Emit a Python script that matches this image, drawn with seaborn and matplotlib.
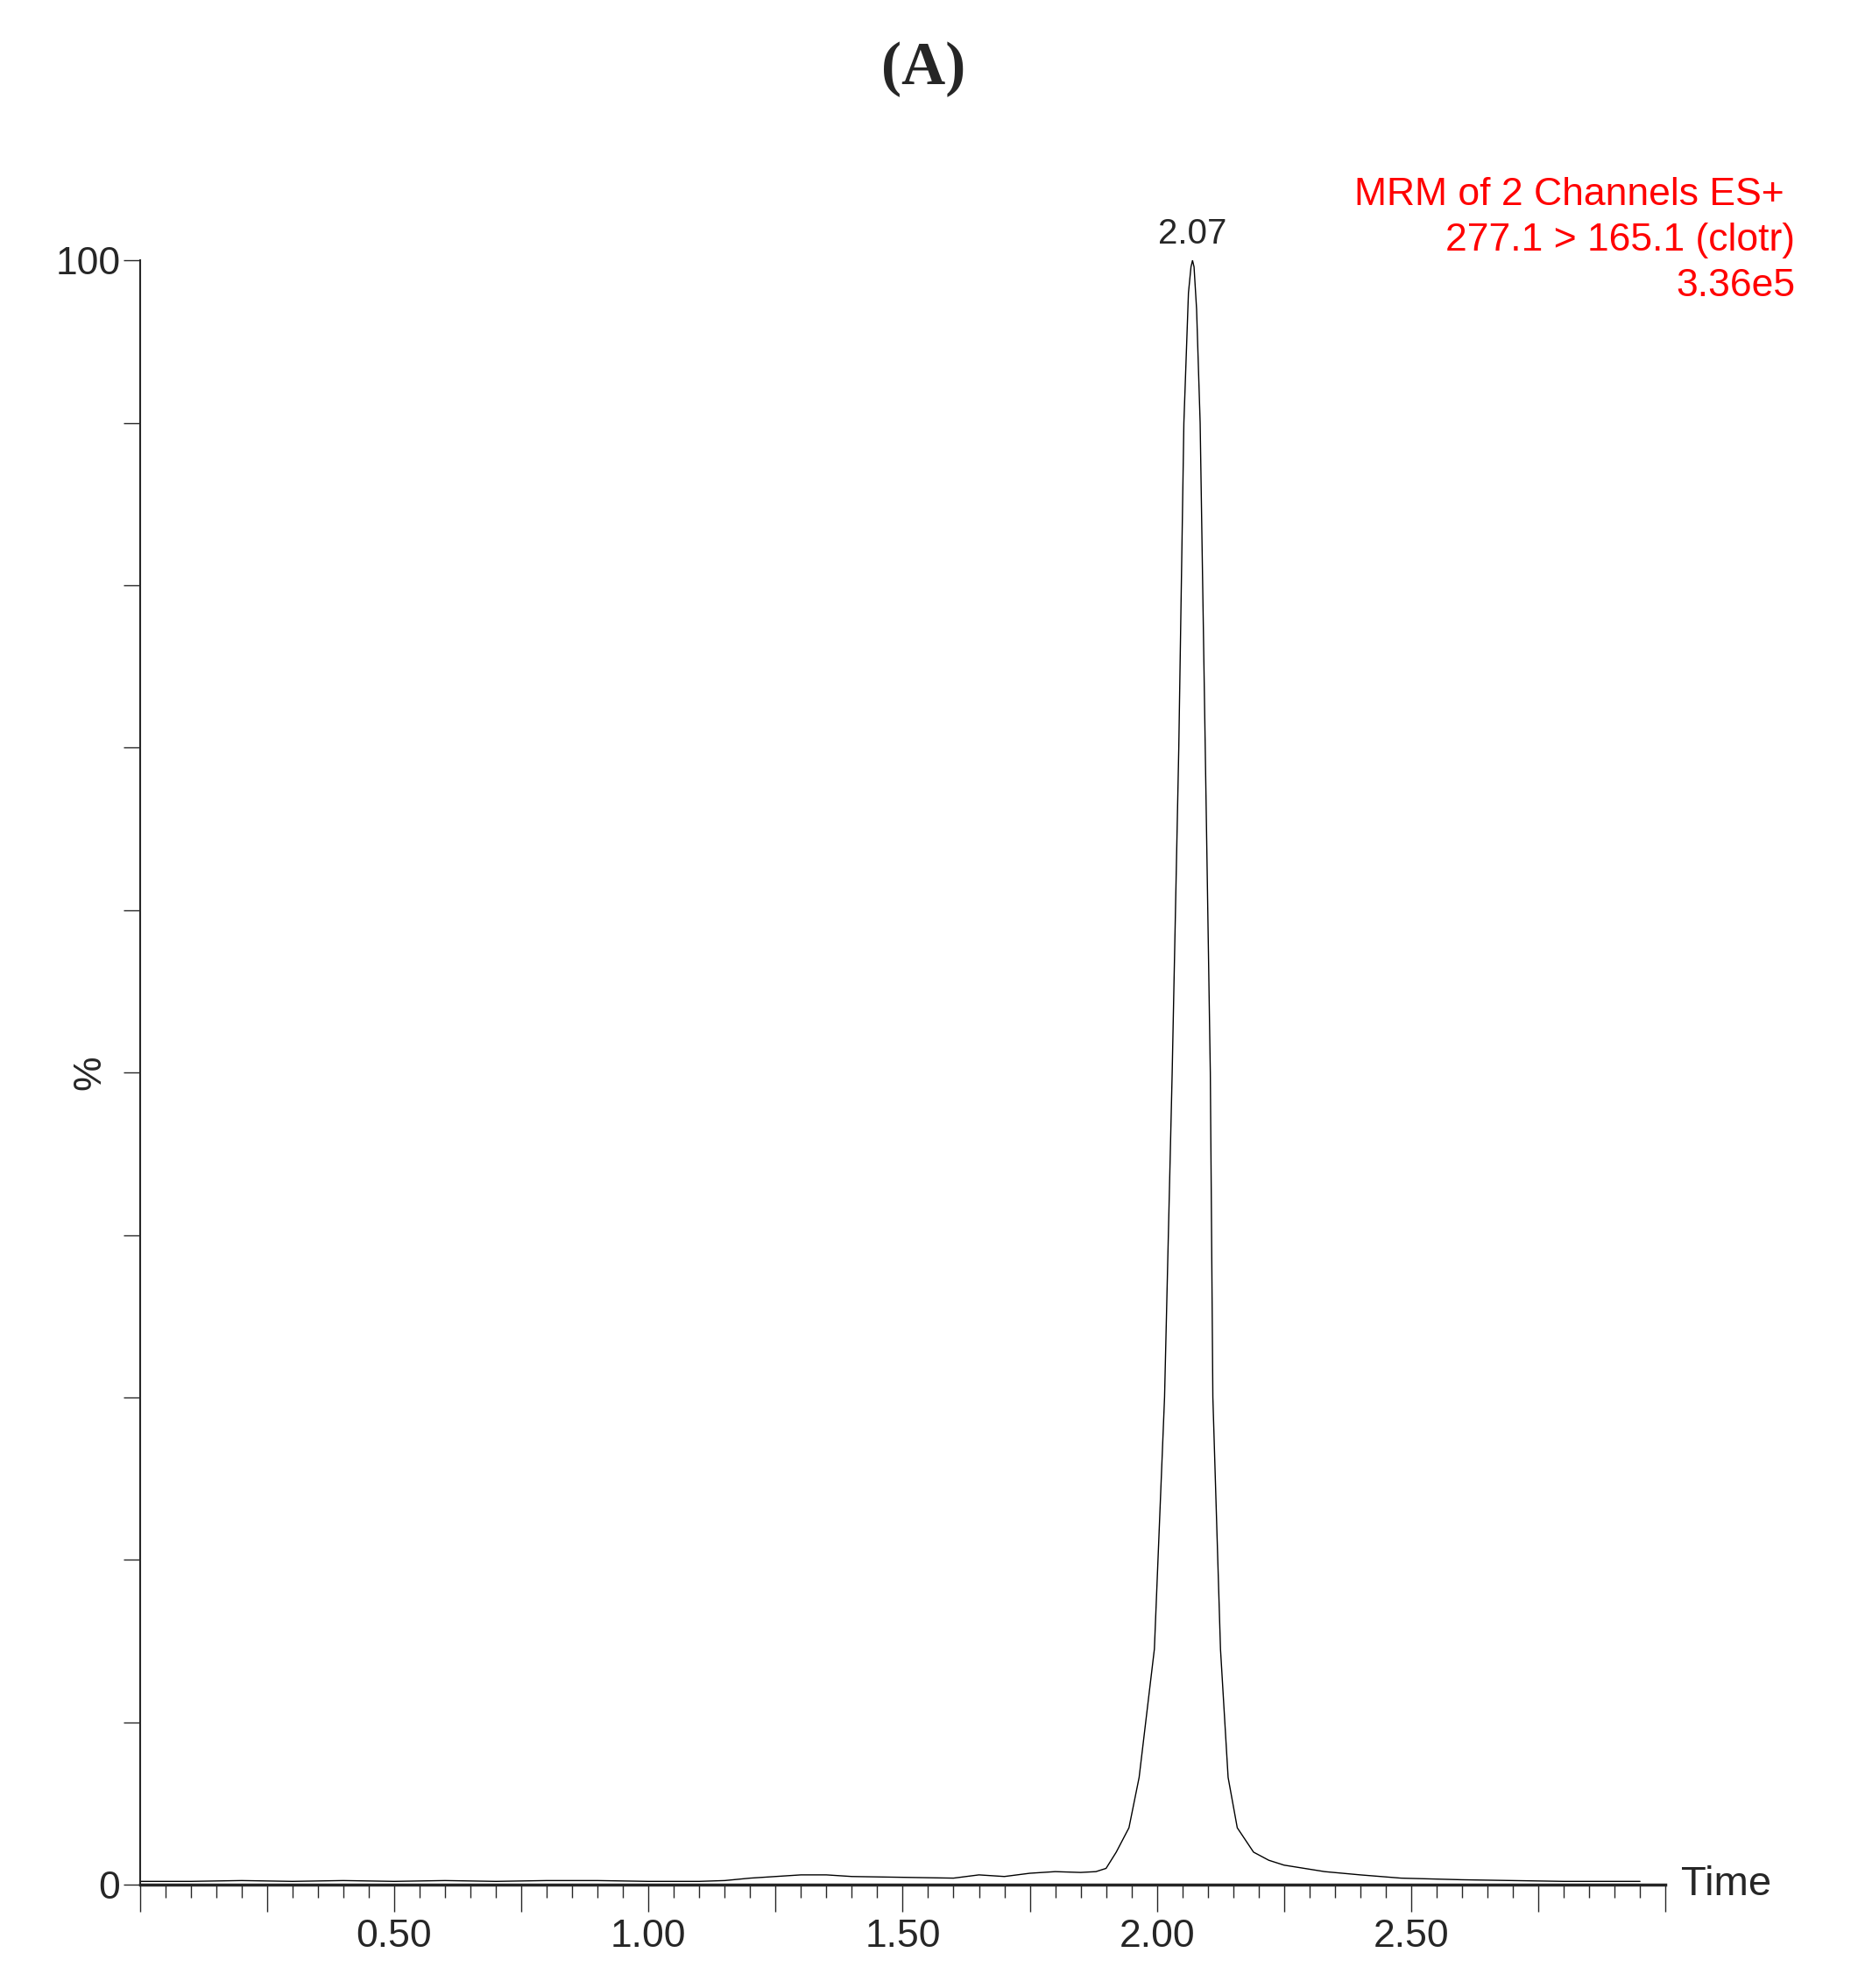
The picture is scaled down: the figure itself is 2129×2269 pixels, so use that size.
import seaborn as sns
import matplotlib.pyplot as plt
import matplotlib.ticker as mticker
import pandas as pd

# chromatogram points (time in min, relative intensity %)
times = [0.00, 0.10, 0.20, 0.30, 0.40, 0.50, 0.60, 0.70, 0.80, 0.90, 1.00, 1.10, 1.15,
         1.20, 1.25, 1.30, 1.35, 1.40, 1.50, 1.60, 1.65, 1.70, 1.75, 1.80, 1.85, 1.88,
         1.90, 1.92, 1.945, 1.965, 1.995, 2.015, 2.03, 2.043, 2.053, 2.062, 2.067, 2.07,
         2.073, 2.078, 2.085, 2.095, 2.105, 2.11, 2.125, 2.14, 2.158, 2.19, 2.22, 2.25, 2.29, 2.33,
         2.40, 2.48, 2.60, 2.70, 2.80, 2.90, 2.95]
intensity = [0.2, 0.2, 0.25, 0.2, 0.25, 0.2, 0.25, 0.2, 0.25, 0.25, 0.2, 0.2, 0.25,
             0.4, 0.5, 0.6, 0.6, 0.5, 0.45, 0.4, 0.6, 0.5, 0.7, 0.8, 0.75, 0.8,
             1.0, 2.0, 3.5, 6.6, 14.5, 30.0, 50.0, 70.0, 90.0, 98.0, 99.6, 100.0,
             99.6, 97.0, 90.0, 70.0, 50.0, 30.0, 14.5, 6.6, 3.5, 2.0, 1.5, 1.2, 1.0, 0.8,
             0.6, 0.4, 0.3, 0.25, 0.2, 0.2, 0.2]
peak_label = "2.07"
peak_time = 2.07
header = ["MRM of 2 Channels ES+ ", "277.1 > 165.1 (clotr)", "3.36e5"]

df = pd.DataFrame({"Time": times, "Intensity": intensity})

sns.set_style("ticks")
plt.rcParams['font.family'] = ['Liberation Sans', 'DejaVu Sans']

fig = plt.figure(figsize=(21.29, 22.69), dpi=100)
ax = fig.add_axes([0.075, 0.052, 0.818, 0.817])
sns.lineplot(data=df, x="Time", y="Intensity", ax=ax, color="black", linewidth=1.0)

ax.set_xlim(0, 3.0)
ax.set_ylim(0, 100)
sns.despine(ax=ax)
ax.spines['left'].set_linewidth(1.5)
ax.spines['bottom'].set_linewidth(2.5)

ax.xaxis.set_major_locator(mticker.MultipleLocator(0.25))
ax.xaxis.set_major_formatter(mticker.FuncFormatter(
    lambda v, p: f"{v:.2f}" if v > 0 and abs(v / 0.5 - round(v / 0.5)) < 1e-6 and v < 3 else ""))
ax.xaxis.set_minor_locator(mticker.MultipleLocator(0.05))
ax.tick_params(axis='x', which='major', length=22, width=1, labelsize=32, pad=6)
ax.tick_params(axis='x', which='minor', length=11, width=1)

ax.yaxis.set_major_locator(mticker.MultipleLocator(10))
ax.yaxis.set_major_formatter(mticker.FuncFormatter(
    lambda v, p: f"{int(v)}" if v in (0, 100) else ""))
ax.tick_params(axis='y', which='major', length=14, width=1, labelsize=32, pad=2)

ax.set_xlabel("")
ax.set_ylabel("%", fontsize=32)
ax.yaxis.set_label_coords(-0.021, 0.5)
ax.text(3.03, 0, "Time", fontsize=34, va='center', ha='left')
ax.text(peak_time, 100.6, peak_label, fontsize=29, ha='center', va='bottom')

fig.text(0.495, 0.965, "(A)", fontsize=50, fontweight='bold', ha='center', va='center',
         family=['Liberation Serif', 'DejaVu Serif'])
for i, line in enumerate(header):
    fig.text(0.9625, 0.902 - i * 0.0229, line, fontsize=32, color='red', ha='right', va='center')

fig.savefig("out.png", dpi=100)
